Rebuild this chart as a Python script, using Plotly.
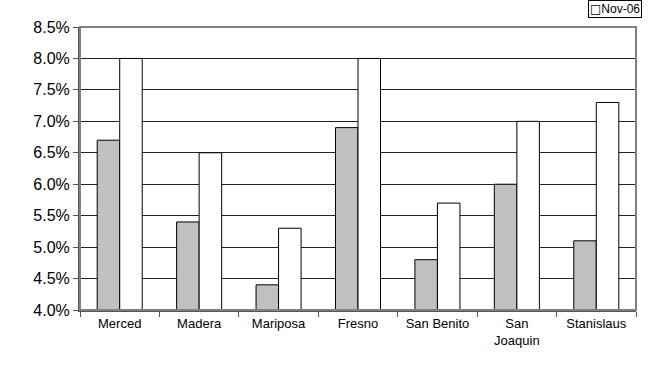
import plotly.graph_objects as go

counties = ["Merced", "Madera", "Mariposa", "Fresno", "San Benito", "San<br>Joaquin", "Stanislaus"]
rate_earlier = [0.067, 0.054, 0.044, 0.069, 0.048, 0.060, 0.051]
rate_nov06 = [0.080, 0.065, 0.053, 0.080, 0.057, 0.070, 0.073]
y_ticks = [0.040, 0.045, 0.050, 0.055, 0.060, 0.065, 0.070, 0.075, 0.080, 0.085]

fig = go.Figure()
fig.add_trace(go.Bar(x=counties, y=rate_earlier, name="Earlier", showlegend=False,
                     marker=dict(color="#c0c0c0", line=dict(color="black", width=1))))
fig.add_trace(go.Bar(x=counties, y=rate_nov06, name="Nov-06", showlegend=False,
                     marker=dict(color="white", line=dict(color="black", width=1))))

fig.update_layout(
    width=654, height=384,
    margin=dict(l=80, r=18, t=27, b=74, autoexpand=False),
    paper_bgcolor="white", plot_bgcolor="white",
    barmode="group", bargap=0.433, bargroupgap=0,
    font=dict(family="Liberation Sans, Arial, sans-serif", color="black"),
    xaxis=dict(showline=True, linecolor="#555555", linewidth=2, mirror=False,
               ticks="outside", tickson="boundaries", ticklen=5, tickcolor="#555555",
               tickfont=dict(size=13), showgrid=False),
    yaxis=dict(range=[0.040, 0.085], tickvals=y_ticks, tickformat=".1%",
               showline=True, linecolor="#555555", linewidth=2,
               ticks="outside", ticklen=5, tickcolor="#555555",
               showgrid=True, gridcolor="#222222", gridwidth=1,
               tickfont=dict(size=16), zeroline=False),
)
fig.add_shape(type="rect", xref="paper", yref="paper", x0=0, x1=1, y0=0, y1=1,
              line=dict(color="#808080", width=2), layer="above")
fig.add_annotation(xref="paper", yref="paper", x=1.011, y=1.095, xanchor="right", yanchor="top",
                   text="<span style='font-family:DejaVu Sans;font-size:12px'>\u25a1</span>Nov-06",
                   showarrow=False, font=dict(size=12),
                   bordercolor="black", borderwidth=1, borderpad=1, bgcolor="white")
fig.write_html("out.html", config={"displayModeBar": False},
               post_script="document.body.style.margin='0';")
